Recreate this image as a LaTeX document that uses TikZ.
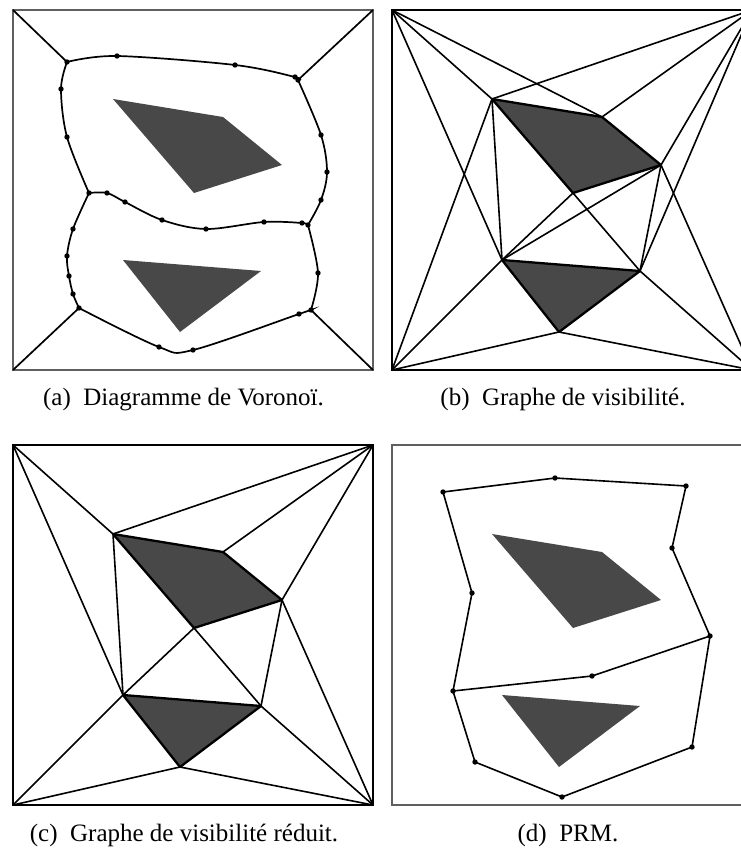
\documentclass[tikz,border=0pt]{standalone}
\usepackage{fontspec}
\setmainfont{Liberation Serif}
\usepackage{tikz}
\usetikzlibrary{positioning}
\definecolor{obstgray}{RGB}{72,72,72}
\definecolor{framegray}{RGB}{95,95,95}

% obstacles and corners of one panel, names prefixed by #1
\newcommand{\placeobst}[1]{%
  \coordinate (#1tl) at (0,0);
  \coordinate (#1tr) at (360,0);
  \coordinate (#1bl) at (0,360);
  \coordinate (#1br) at (360,360);
  \coordinate (#1q1) at (100,89);
  \coordinate (#1q2) at (210,107);
  \coordinate (#1q3) at (269,155);
  \coordinate (#1q4) at (181,183);
  \coordinate (#1t1) at (110,250);
  \coordinate (#1t2) at (248,261);
  \coordinate (#1t3) at (167,322);
}

\begin{document}
\begin{tikzpicture}[x=1pt, y=-1pt,
    obst/.style={fill=obstgray},
    obstline/.style={fill=obstgray, draw=black, line width=2.3pt, line join=round},
    edge/.style={line width=1.6pt},
    vline/.style={line width=1.7pt},
    lightframe/.style={draw=framegray, line width=1.6pt},
    darkframe/.style={draw=black, line width=2.6pt},
    caption/.style={anchor=base, font=\fontsize{25}{30}\selectfont}]
    \useasboundingbox (0,0) rectangle (741,852);
    \clip (0,0) rectangle (741,852);

    % (a) Voronoi
    \begin{scope}[shift={(13,10)}]
        \placeobst{a}
        \fill[obst] (aq1) -- (aq2) -- (aq3) -- (aq4) -- cycle;
        \fill[obst] (at1) -- (at2) -- (at3) -- cycle;
        \draw[lightframe] (atl) rectangle (abr);
        \coordinate (j1) at (54,52);
        \coordinate (j2) at (285,70);
        \coordinate (j3) at (295,215);
        \coordinate (j4) at (298,300);
        \coordinate (j5) at (66,298);
        \coordinate (j6) at (76,183);
        \coordinate (v1) at (104,46);
        \coordinate (v2) at (222,55);
        \coordinate (v3) at (282,67);
        \coordinate (v4) at (308,125);
        \coordinate (v5) at (314,162);
        \coordinate (v6) at (308,190);
        \coordinate (v7) at (305,263);
        \coordinate (v8) at (286,304);
        \coordinate (v9) at (180,340);
        \coordinate (v10) at (146,337);
        \coordinate (v11) at (60,284);
        \coordinate (v12) at (56,266);
        \coordinate (v13) at (54,246);
        \coordinate (v14) at (60,219);
        \coordinate (v15) at (54,127);
        \coordinate (v16) at (48,79);
        \coordinate (v17) at (94,183);
        \coordinate (v18) at (112,192);
        \coordinate (v19) at (149,210);
        \coordinate (v20) at (193,219);
        \coordinate (v21) at (251,212);
        \coordinate (v22) at (289,213);
        \draw[vline] plot[smooth, tension=0.55] coordinates {(j1) (v1) (v2) (v3) (j2)};
        \draw[vline] plot[smooth, tension=0.55] coordinates {(j2) (v4) (v5) (v6) (j3)};
        \draw[vline] plot[smooth, tension=0.55] coordinates {(j3) (v7) (j4)};
        \draw[vline] plot[smooth, tension=0.55] coordinates {(j4) (v8) (v9) (v10) (j5)};
        \draw[vline] plot[smooth, tension=0.55] coordinates {(j5) (v11) (v12) (v13) (v14) (j6)};
        \draw[vline] plot[smooth, tension=0.55] coordinates {(j6) (v15) (v16) (j1)};
        \draw[vline] plot[smooth, tension=0.55] coordinates {(j6) (v17) (v18) (v19) (v20) (v21) (v22) (j3)};
        \draw[vline] (atl) -- (j1);
        \draw[vline] (atr) -- (j2);
        \draw[vline] (abl) -- (j5);
        \draw[vline] (abr) -- (j4);
        \foreach \p in {j1,j2,j3,j4,j5,j6,v1,v2,v3,v4,v5,v6,v7,v8,v9,v10,v11,v12,v13,v14,v15,v16,v17,v18,v19,v20,v21,v22}
            \fill (\p) circle (2.7);
    \end{scope}

    % (b) visibility graph
    \begin{scope}[shift={(392,10)}]
        \placeobst{b}
        \foreach \u/\v in {tl/q1, tl/q2, tl/t1, tr/q1, tr/q2, tr/q3, tr/t2, bl/q1, bl/t1, bl/t3,
                           br/q3, br/t2, br/t3, q1/t1, q4/t1, q4/t2, q3/t1, q3/t2}
            \draw[edge] (b\u) -- (b\v);
        \draw[obstline] (bq1) -- (bq2) -- (bq3) -- (bq4) -- cycle;
        \draw[obstline] (bt1) -- (bt2) -- (bt3) -- cycle;
        \draw[darkframe] (btl) rectangle (bbr);
    \end{scope}

    % (c) reduced visibility graph
    \begin{scope}[shift={(13,445)}]
        \placeobst{c}
        \foreach \u/\v in {tl/q1, tl/t1, tr/q1, tr/q2, tr/q3, bl/t1, bl/t3,
                           br/q3, br/t2, br/t3, q1/t1, q4/t1, q4/t2, q3/t2}
            \draw[edge] (c\u) -- (c\v);
        \draw[obstline] (cq1) -- (cq2) -- (cq3) -- (cq4) -- cycle;
        \draw[obstline] (ct1) -- (ct2) -- (ct3) -- cycle;
        \draw[darkframe] (ctl) rectangle (cbr);
    \end{scope}

    % (d) PRM
    \begin{scope}[shift={(392,445)}]
        \placeobst{d}
        \fill[obst] (dq1) -- (dq2) -- (dq3) -- (dq4) -- cycle;
        \fill[obst] (dt1) -- (dt2) -- (dt3) -- cycle;
        \draw[lightframe] (dtl) rectangle (dbr);
        \coordinate (p1) at (51,47);
        \coordinate (p2) at (163,33);
        \coordinate (p3) at (294,41);
        \coordinate (p4) at (280,103);
        \coordinate (p5) at (318,191);
        \coordinate (p6) at (200,231);
        \coordinate (p7) at (61,246);
        \coordinate (p8) at (80,148);
        \coordinate (p9) at (83,317);
        \coordinate (p10) at (170,352);
        \coordinate (p11) at (300,302);
        \foreach \u/\v in {p1/p2, p2/p3, p3/p4, p4/p5, p1/p8, p8/p7, p7/p6, p6/p5,
                           p7/p9, p9/p10, p10/p11, p11/p5}
            \draw[edge, line join=round] (\u) -- (\v);
        \foreach \p in {p1,p2,p3,p4,p5,p6,p7,p8,p9,p10,p11}
            \fill (\p) circle (2.7);
    \end{scope}

    % Captions
    \node[caption] (capa) at (183.5,405) {(a)\hspace{0.5em}Diagramme de Voronoï.};
    \node[caption] (capb) at (563,405) {(b)\hspace{0.5em}Graphe de visibilité.};
    \node[caption] (capc) at (184,841.5) {(c)\hspace{0.5em}Graphe de visibilité réduit.};
    \node[caption] (capd) at (568,841.5) {(d)\hspace{0.5em}PRM.};
\end{tikzpicture}
\end{document}
